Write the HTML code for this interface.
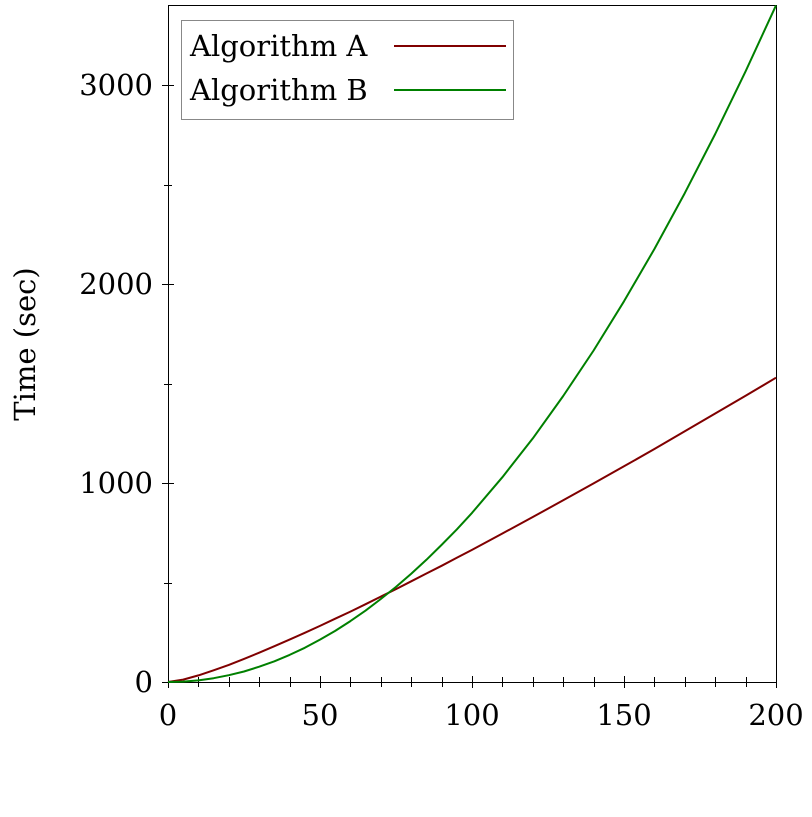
<!DOCTYPE html>
<html><head><meta charset="utf-8"><style>
html,body{margin:0;padding:0;background:#fff}
svg text{font-family:"DejaVu Serif","Liberation Serif",serif;fill:#000}
</style></head><body>
<svg id="chart" width="812" height="812" xmlns="http://www.w3.org/2000/svg">
<g id="axes"></g><g id="series"></g>
<g>
<rect x="181.5" y="20.5" width="332" height="99" fill="#fff" stroke="#888" stroke-width="1"/>
<text x="190" y="56" font-size="29">Algorithm A</text>
<line x1="394" y1="46" x2="506" y2="46" stroke="#800000" stroke-width="2"/>
<text x="190" y="100" font-size="29">Algorithm B</text>
<line x1="394" y1="90" x2="506" y2="90" stroke="#008000" stroke-width="2"/>
</g>
<text x="35" y="344" font-size="29" text-anchor="middle" transform="rotate(-90 35 344)">Time (sec)</text>
</svg>
<script>
const xValues=[0,5,10,15,20,25,30,35,40,45,50,55,60,65,70,75,80,85,90,95,100,110,120,130,140,150,160,170,180,190,200];
const seriesA=[0,12,33,59,86,116,147,180,213,247,282,318,354,391,429,467,506,545,584,624,664,746,829,913,998,1084,1171,1260,1349,1438,1529];
const seriesB=[0,2,8,19,34,53,77,104,136,172,213,257,306,359,417,478,544,614,689,767,850,1029,1224,1437,1666,1913,2176,2457,2754,3069,3400];
const xTicks=[0,50,100,150,200];
const yTicks=[0,1000,2000,3000];
const X0=168,X1=776,Y0=682,PY=0.199,YTOP=5;
const sx=v=>X0+(v-0)/200*(X1-X0);
const sy=v=>Y0-v*PY;
const NS="http://www.w3.org/2000/svg";
const axes=document.getElementById('axes'),ser=document.getElementById('series');
function mk(p,tag,attrs){const e=document.createElementNS(NS,tag);for(const k in attrs)e.setAttribute(k,attrs[k]);p.appendChild(e);return e;}
let e=mk(axes,'rect',{x:X0+0.5,y:YTOP+0.5,width:X1-X0,height:Y0-YTOP,fill:'none',stroke:'#000','stroke-width':1});


for(let v=0;v<=200;v+=10){const major=v%50===0;const x=Math.round(sx(v))+0.5;
 e=mk(axes,'line',{x1:x,x2:x,y1:Y0-(major?6:5),y2:Y0+(major?6:5),stroke:'#000'});
 
 }
xTicks.forEach(v=>{e=mk(axes,'text',{x:sx(v),y:725,'font-size':29,'text-anchor':'middle'});e.textContent=v;
 
 });
for(let v=0;v<=3000;v+=500){const major=v%1000===0;const y=Math.round(sy(v))+0.5;
 e=mk(axes,'line',{x1:X0-(major?6:4),x2:X0+(major?6:4),y1:y,y2:y,stroke:'#000'});
 
 }
yTicks.forEach(v=>{e=mk(axes,'text',{x:153,y:sy(v)+10,'font-size':29,'text-anchor':'end'});e.textContent=v;
 
 });
function line(data,color,name){const d=data.map((v,i)=>(i?'L':'M')+sx(xValues[i]).toFixed(1)+' '+sy(v).toFixed(1)).join(' ');
 const p=mk(ser,'path',{d:d,fill:'none',stroke:color,'stroke-width':2,'stroke-linejoin':'round'});
 
 }
line(seriesA,'#800000','series-algorithm-a');
line(seriesB,'#008000','series-algorithm-b');
</script>
</body></html>
